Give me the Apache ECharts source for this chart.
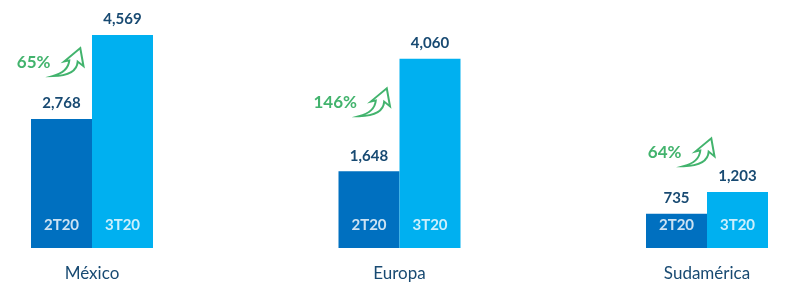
<!DOCTYPE html>
<html>
<head>
<meta charset="utf-8">
<script src="https://cdn.jsdelivr.net/npm/echarts@6/dist/echarts.min.js"></script>
<style>html,body{margin:0;padding:0;background:#fff}#c{width:800px;height:294px}</style>
</head>
<body>
<div id="c"></div>
<script>
// ---- data ----
const categories = ['México', 'Europa', 'Sudamérica'];
const seriesNames = ['2T20', '3T20'];
const values2T20 = [2768, 1648, 735];
const values3T20 = [4569, 4060, 1203];
const growthLabels = ['65%', '146%', '64%'];

// ---- layout / style (not data) ----
const annotationLift = [1220, 1480, 1320];   // height of growth note above the 2T20 bar (axis units)
const annotationShift = [-24, -25, -8];      // horizontal pixel shift of arrow
const BAR_W = 61;
const FONT = 'Lato, "Open Sans", sans-serif';
const NAVY = '#184a72';
const GREEN = '#13a049';
const arrowPath = 'path://M2,98 C36,88 52,70 54,44 L38,48 L88,2 L98,64 L80,48 C78,80 50,97 2,98 Z';

const fmt = v => v.toLocaleString('en-US');

const nameLabelSeries = (k) => ({
  type: 'scatter', clip: false, silent: true, z: 6,
  symbol: 'circle', symbolSize: 1,
  itemStyle: {color: 'transparent'},
  data: categories.map((c, i) => ({
    value: [i, 0],
    symbolOffset: [(k === 0 ? -1 : 1) * BAR_W / 2, -23]
  })),
  label: {show: true, position: 'inside', color: '#fff', fontFamily: FONT, fontWeight: 'bold', fontSize: 15,
    formatter: () => seriesNames[k]}
});

const chart = echarts.init(document.getElementById('c'), null, {renderer: 'canvas'});
chart.setOption({
  animation: false,
  grid: {left: 92, right: 93, top: 15, bottom: 46},
  xAxis: {
    type: 'category',
    data: categories,
    boundaryGap: false,
    axisLine: {show: false},
    axisTick: {show: false},
    axisLabel: {margin: 17, color: NAVY, fontFamily: FONT, fontSize: 17}
  },
  yAxis: {type: 'value', min: 0, max: 5000, show: false, splitLine: {show: false}},
  series: [
    {
      name: seriesNames[0], type: 'bar', data: values2T20, barWidth: BAR_W, barGap: '0%', clip: false,
      itemStyle: {color: '#0070c0'},
      label: {show: true, position: 'top', distance: 8, color: NAVY, fontFamily: FONT, fontWeight: 'bold', fontSize: 15,
        formatter: p => fmt(p.value)}
    },
    {
      name: seriesNames[1], type: 'bar', data: values3T20, barWidth: BAR_W, clip: false,
      itemStyle: {color: '#00b0f0'},
      label: {show: true, position: 'top', distance: 8, color: NAVY, fontFamily: FONT, fontWeight: 'bold', fontSize: 15,
        formatter: p => fmt(p.value)}
    },
    nameLabelSeries(0),
    nameLabelSeries(1),
    // growth annotations
    {
      type: 'scatter', clip: false, silent: true, z: 5,
      symbol: arrowPath, symbolSize: [31, 28],
      itemStyle: {color: '#ffffff', borderColor: GREEN, borderWidth: 1.9},
      data: categories.map((c, i) => ({
        value: [i, values2T20[i] + annotationLift[i]],
        symbolOffset: [annotationShift[i], 0],
        label: {show: true, position: 'left', distance: 1, formatter: growthLabels[i],
          color: GREEN, fontFamily: FONT, fontWeight: 'bold', fontSize: 17}
      }))
    }
  ]
});
</script>
</body>
</html>
